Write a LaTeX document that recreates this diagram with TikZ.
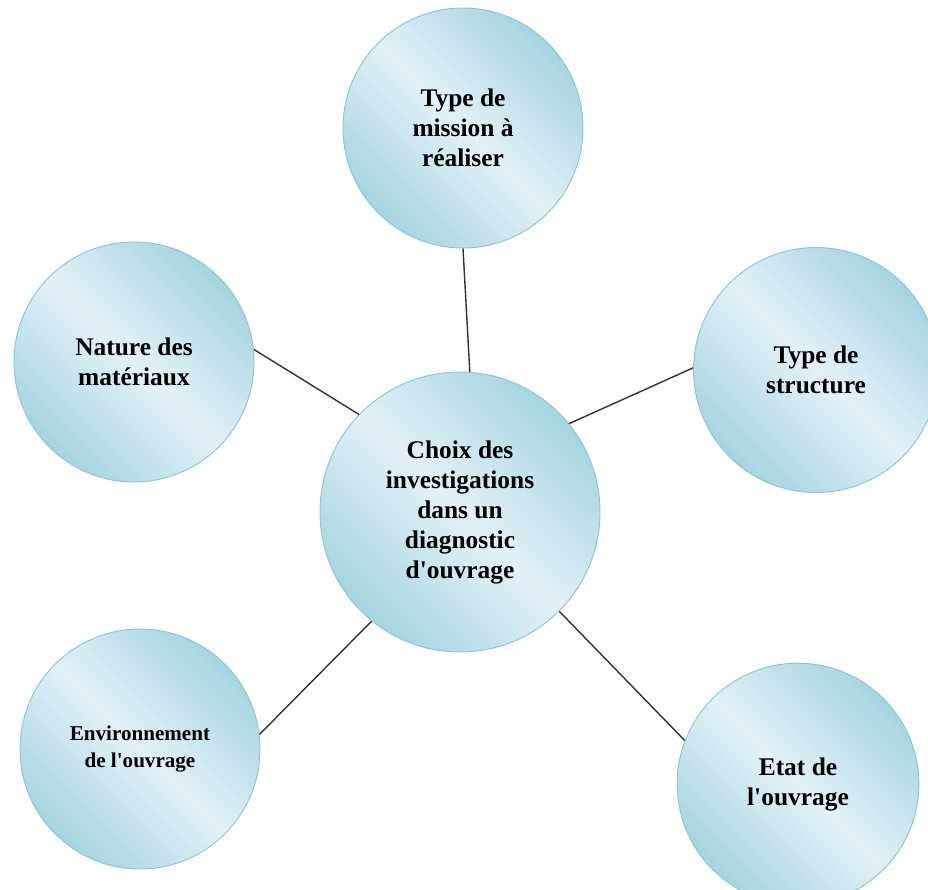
\documentclass[tikz,border=0pt]{standalone}
\usepackage{fontspec}
\setmainfont{Liberation Serif}
\usepackage{tikz}
\usetikzlibrary{shadings}

\begin{document}
\begin{tikzpicture}[
  x=1cm,y=1cm,
  font=\fontsize{21.7}{25.6}\selectfont\bfseries,
  bulle/.style={circle,draw=bulleEdge,line width=0.8pt,minimum size=#1,align=center,
    top color=bulleDark,bottom color=bulleDark,middle color=bulleLight,shading angle=-45},
  bulle/.default=7.2cm,
  lien/.style={draw=black!80,line width=1.2pt},
]
\definecolor{bulleEdge}{HTML}{8CC6D6}
\definecolor{bulleDark}{HTML}{A6D4E1}
\definecolor{bulleLight}{HTML}{E2F2F7}

\useasboundingbox (0,0) rectangle (27.84,-26.67);
\clip (0,0) rectangle (27.84,-26.67);

\node[bulle=8.4cm] (centre) at (13.80,-15.36) {Choix des\\investigations\\dans un\\diagnostic\\d\textquotesingle ouvrage};

\node[bulle] (mission) at (13.89,-3.84) {Type de\\mission à\\réaliser};
\node[bulle] (nature) at (4.02,-10.86) {Nature des\\matériaux};
\node[bulle=7.35cm] (structure) at (24.48,-11.10) {Type de\\structure};
\node[bulle,font=\fontsize{18}{22.8}\selectfont\bfseries] (environ) at (4.20,-22.47) {Environnement\\de l\textquotesingle ouvrage};
\node[bulle=7.25cm] (etat) at (23.94,-23.52) {Etat de\\l\textquotesingle ouvrage};

% liaisons vers le centre
\draw[lien] (mission.270) -- (centre.86);
\draw[lien] (nature.6) -- (centre.136);
\draw[lien] (centre.39) -- (structure.179);
\draw[lien] (environ.7) -- (centre.231);
\draw[lien] (centre.315) -- (etat.159);
\end{tikzpicture}
\end{document}
